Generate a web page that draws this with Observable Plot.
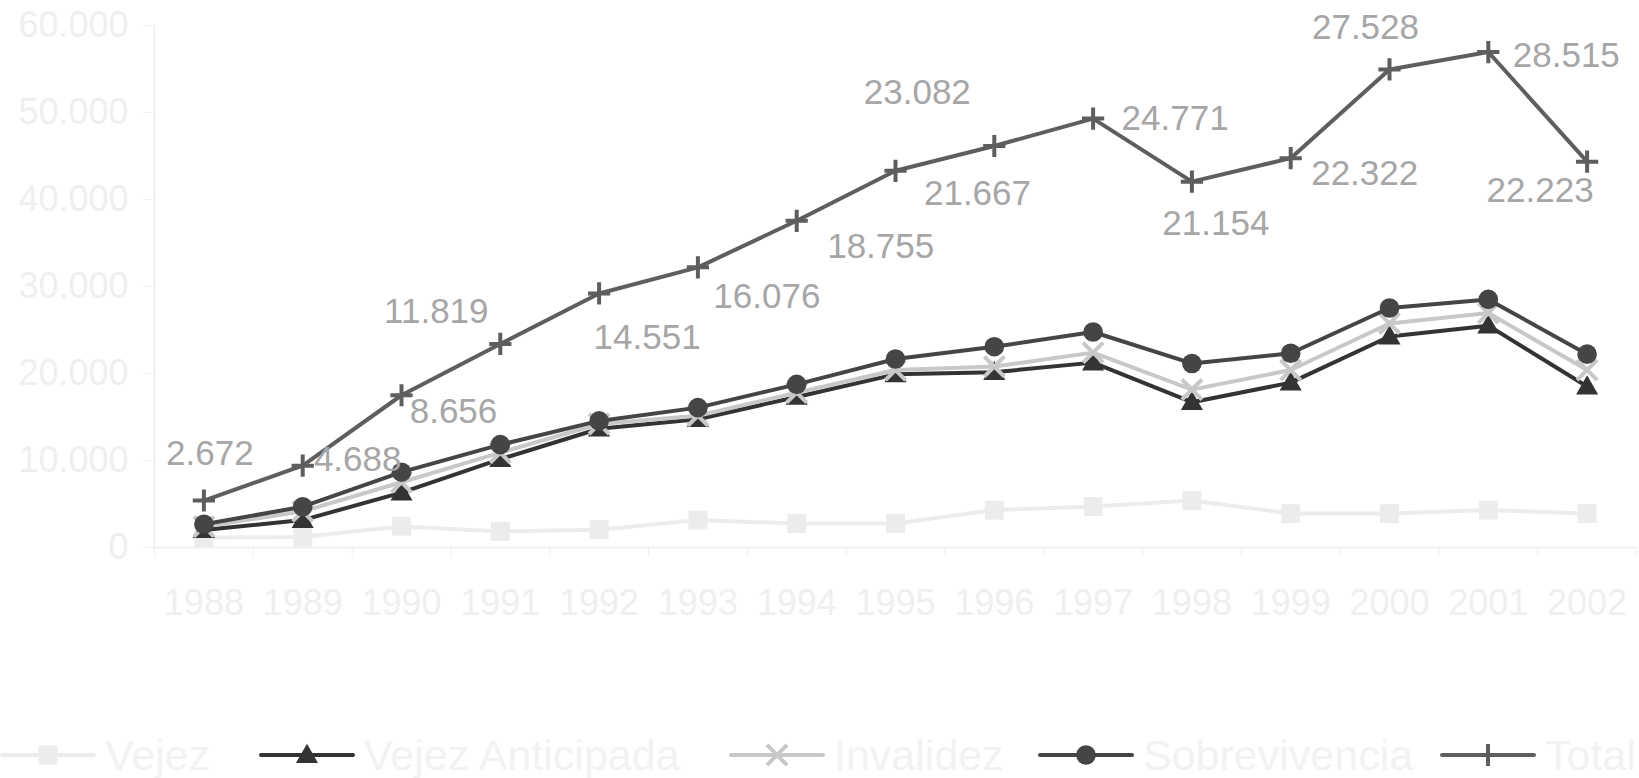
<!DOCTYPE html>
<html>
<head>
<meta charset="utf-8">
<script src="https://cdn.jsdelivr.net/npm/d3@7"></script>
<script src="https://cdn.jsdelivr.net/npm/@observablehq/plot@0.6"></script>
<style>
  body { margin: 0; background: #fff; font-family: "Liberation Sans", Arial, sans-serif; }
  #wrap { position: relative; width: 1639px; height: 778px; overflow: hidden; }
  #legend { position: absolute; left: 0; top: 0; width: 1639px; height: 778px; pointer-events: none; }
  .item { position: absolute; top: 728px; height: 54px; display: flex; align-items: center; white-space: nowrap; }
  .item span { font-size: 43px; color: #f2f2f2; margin-left: 9px; line-height: 1; }
</style>
</head>
<body>
<div id="wrap"><div id="legend"></div></div>
<script>
// Pensiones pagadas por tipo, 1988-2002
const years = [1988, 1989, 1990, 1991, 1992, 1993, 1994, 1995, 1996, 1997, 1998, 1999, 2000, 2001, 2002];
const vejez = [1150, 1200, 2450, 1850, 2050, 3150, 2750, 2750, 4300, 4700, 5400, 3900, 3900, 4300, 3900];
const vejezAnticipada = [2000, 3150, 6300, 10150, 13650, 14750, 17300, 19900, 20150, 21250, 16700, 18950, 24250, 25500, 18500];
const invalidez = [2400, 4150, 7500, 10900, 14200, 15150, 17800, 20400, 20800, 22400, 18150, 20400, 25750, 26950, 20400];
const sobrevivencia = [2672, 4688, 8656, 11819, 14551, 16076, 18755, 21667, 23082, 24771, 21154, 22322, 27528, 28515, 22223];
const total = [5400, 9400, 17500, 23400, 29200, 32200, 37550, 43300, 46150, 49300, 42050, 44750, 54950, 56950, 44350];
const yTicks = [0, 10000, 20000, 30000, 40000, 50000, 60000];
const seriesNames = ["Vejez", "Vejez Anticipada", "Invalidez", "Sobrevivencia", "Total"];

// Where each value label sits relative to its point on the Total line (px)
const labelOffsets = [
  [6, -47], [55, -6], [52, 17], [-64, -32], [48, 44], [69, 29], [84, 26], [82, 23],
  [-77, -53], [82, 0], [24, 42], [74, 16], [-24, -42], [78, 4], [-47, 29]
];

// Miles con punto como separador
const fmt = v => d3.format(",")(v).replace(/,/g, ".");

const seriesStyle = [
  {values: vejez, color: "#ececec", symbol: "square", r: 10.7, filled: true, dy: 0},
  {values: vejezAnticipada, color: "#333333", symbol: "triangle", r: 8.2, filled: true, dy: 1.5},
  {values: invalidez, color: "#c8c8c8", symbol: "times", r: 9.2, filled: false, dy: 0},
  {values: sobrevivencia, color: "#454545", symbol: "circle", r: 9.8, filled: true, dy: 0},
  {values: total, color: "#5e5e5e", symbol: "plus", r: 7.2, filled: false, dy: 0}
];

const rows = vals => years.map((year, i) => ({year, value: vals[i]}));

const seriesMarks = seriesStyle.flatMap(s => {
  const data = rows(s.values);
  return [
    Plot.line(data, {x: "year", y: "value", stroke: s.color, strokeWidth: 4}),
    Plot.dot(data, s.filled
      ? {x: "year", y: "value", symbol: s.symbol, r: s.r, fill: s.color, stroke: "none", dy: s.dy}
      : {x: "year", y: "value", symbol: s.symbol, r: s.r, fill: "none", stroke: s.color, strokeWidth: 4, dy: s.dy})
  ];
});

const labelMarks = years.map((year, i) =>
  Plot.text([{year, y: total[i], label: fmt(sobrevivencia[i])}], {
    x: "year", y: "y", text: "label",
    dx: labelOffsets[i][0], dy: labelOffsets[i][1],
    fill: "#a6a6a6", fontSize: 35
  })
);

const chart = Plot.plot({
  width: 1639,
  height: 640,
  marginLeft: 154,
  marginRight: 3,
  marginTop: 25,
  marginBottom: 93,
  style: {fontFamily: '"Liberation Sans", Arial, sans-serif', fontSize: "36px", color: "#efefef", background: "white", overflow: "visible"},
  x: {type: "linear", domain: [1987.5, 2002.5]},
  y: {domain: [0, 60000]},
  marks: [
    Plot.ruleY([0], {stroke: "#f0f0f0", strokeWidth: 2}),
    Plot.ruleX([1987.5], {stroke: "#f0f0f0", strokeWidth: 2}),
    Plot.axisY({ticks: yTicks, tickSize: 11, tickPadding: 15, tickFormat: fmt, fontSize: 36, label: null}),
    Plot.axisX({ticks: d3.range(1987.5, 2003, 1), tickSize: 10, tickFormat: () => "", label: null}),
    Plot.axisX({ticks: years, tickSize: 0, tickPadding: 42, tickFormat: d => String(d), fontSize: 36, label: null}),
    ...seriesMarks,
    ...labelMarks
  ]
});
document.getElementById("wrap").prepend(chart);

// Leyenda
const legendX = [0, 259, 729, 1038, 1440];
const legend = d3.select("#legend");
seriesNames.forEach((name, i) => {
  const s = seriesStyle[i];
  const item = legend.append("div").attr("class", "item").style("left", legendX[i] + "px");
  const svg = item.append("svg").attr("width", 96).attr("height", 40);
  svg.append("line").attr("x1", 2).attr("x2", 94).attr("y1", 20).attr("y2", 20)
    .attr("stroke", s.color).attr("stroke-width", 4).attr("stroke-linecap", "round");
  const symType = {square: d3.symbolSquare, triangle: d3.symbolTriangle, times: d3.symbolTimes, circle: d3.symbolCircle, plus: d3.symbolPlus}[s.symbol];
  const path = svg.append("path")
    .attr("transform", `translate(48,${20 + s.dy})`)
    .attr("d", d3.symbol(symType, Math.PI * s.r * s.r)());
  if (s.filled) path.attr("fill", s.color);
  else path.attr("fill", "none").attr("stroke", s.color).attr("stroke-width", 4);
  item.append("span").text(name);
});
</script>
</body>
</html>
